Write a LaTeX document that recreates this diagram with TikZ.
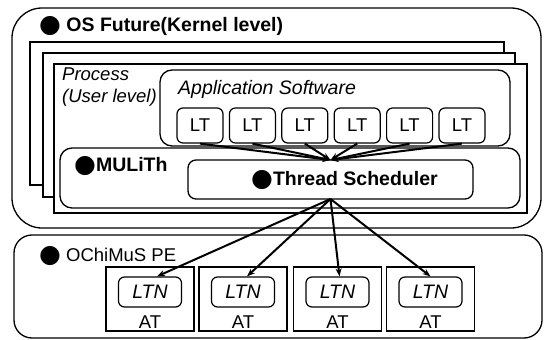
\documentclass[tikz,border=0pt]{standalone}
\usepackage{fontspec}
\setmainfont{Liberation Sans}
\newfontfamily\djv{DejaVu Sans}
\usetikzlibrary{arrows.meta,calc,fit}
\newcommand\blt{\raisebox{-0.6pt}{\djv\fontsize{25}{19}\selectfont ●}}
\begin{document}
\begin{tikzpicture}[x=1pt,y=-1pt,
  area/.style={draw,line width=1.3pt,fill=white,inner sep=0pt,outer sep=0pt},
  rarea/.style={area,rounded corners=#1},
  ltbox/.style={draw,line width=1.2pt,fill=white,rounded corners=6pt,inner sep=0pt,
     minimum width=46pt,minimum height=35pt,font=\fontsize{18.5}{20}\selectfont},
  ltnbox/.style={draw,line width=1.2pt,fill=white,rounded corners=6pt,inner sep=0pt,
     minimum width=63pt,minimum height=30pt,font=\fontsize{19.5}{20}\selectfont\itshape},
  atbox/.style={draw,line width=1.2pt,fill=white,inner sep=0pt,
     minimum width=88pt,minimum height=64pt},
  lbl/.style={inner sep=0pt,anchor=west,font=\fontsize{18.5}{20}\selectfont},
  bold/.style={lbl,font=\fontsize{19.5}{21}\selectfont\bfseries},
  arr/.style={line width=2pt,-{Stealth[length=8pt,width=6pt]}}
]
\useasboundingbox (0,0) rectangle (544,340);
% OS Future
\node[rarea=30pt,fit={(12,8) (541,228)}] (os) {};
\node[bold] (ostitle) at (39,26) {\blt\ OS Future(Kernel level)};
% stacked processes
\node[area,fit={(30,42) (504,185)}] (back) {};
\node[area,fit={(43,53) (515,197)}] (mid) {};
\node[area,fit={(54,64) (527,213)}] (front) {};
\node[lbl,font=\fontsize{18.5}{21.5}\selectfont\itshape,align=left,anchor=north west] (proc) at (62,68) {Process\\(User level)};
% Application software
\node[rarea=12pt,fit={(160,70) (510,146)}] (app) {};
\node[lbl,font=\fontsize{19.5}{20}\selectfont\itshape] (apptitle) at (178,89) {Application Software};
\foreach \i in {1,...,6}{
  \node[ltbox] (lt\i) at ({200+52.4*(\i-1)},125.5) {LT};
}
% MULiTh
\node[rarea=12pt,fit={(60,148) (520,208)}] (mul) {};
\node[bold] (multitle) at (74,166) {\blt MULiTh};
\node[rarea=8pt,fit={(188,160) (473,199)}] (ts) {};
\node[bold] (tstitle) at (251,180) {\blt Thread Scheduler};
% OChiMuS PE
\node[rarea=18pt,fit={(14,235) (542,338)}] (pe) {};
\node[lbl] (petitle) at (39,256) {\blt\ OChiMuS PE};
\foreach \i/\x in {1/150,2/243,3/337.5,4/430.5}{
  \node[atbox] (at\i) at (\x,299) {};
  \node[ltnbox] (ltn\i) at (\x,292) {LTN};
  \node[lbl,anchor=center] (att\i) at (\x,322) {AT};
}
% arrows
\foreach \i in {1,...,6}{
  \draw[arr] (lt\i.south) -- (ts.north);
}
\draw[arr] (ts.south) -- ($(ltn1.north)+(7,0)$);
\draw[arr] (ts.south) -- ($(ltn2.north)+(4,0)$);
\draw[arr] (ts.south) -- ($(ltn3.north)+(2,0)$);
\draw[arr] (ts.south) -- (ltn4.north);
\end{tikzpicture}
\end{document}
